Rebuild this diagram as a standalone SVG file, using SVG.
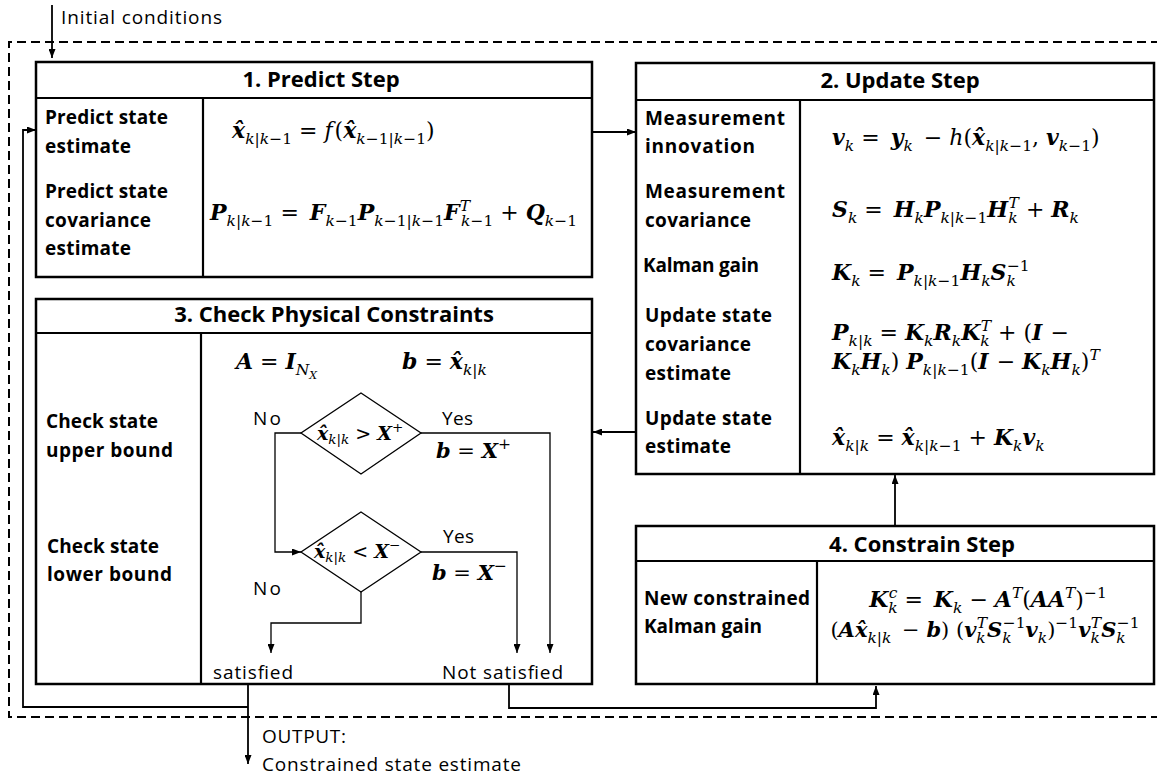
<svg xmlns="http://www.w3.org/2000/svg" width="1157" height="776" viewBox="0 0 1157 776">
<style>
.box{fill:#fff;stroke:#000;stroke-width:2.5}
.div{stroke:#000;stroke-width:2.2;fill:none}
.con{stroke:#000;stroke-width:1.8;fill:none}
.fl{stroke:#000;stroke-width:1.3;fill:none}
.dia{fill:#fff;stroke:#000;stroke-width:1.3}
.dash{stroke:#000;stroke-width:2;fill:none;stroke-dasharray:9 5}
.t{font-family:"Open Sans","Noto Sans",sans-serif;font-weight:bold;font-size:22px;text-anchor:middle;fill:#000}
.l{font-family:"Open Sans","Noto Sans",sans-serif;font-weight:bold;font-size:19px;fill:#000}
.r{font-family:"Open Sans","Noto Sans",sans-serif;font-size:19px;fill:#000}
.m{font-family:"DejaVu Serif","Liberation Serif",serif;font-size:22px;fill:#000}
.mc{text-anchor:middle}
.bi{font-weight:bold;font-style:italic}
.it{font-style:italic;font-weight:normal}
.s{font-size:15.5px;font-style:italic;font-weight:normal}
.su{font-style:normal}
.ss{font-size:11px;font-style:italic;font-weight:normal}
</style>
<defs>
<marker id="ah" markerUnits="userSpaceOnUse" markerWidth="9" markerHeight="7" refX="9" refY="3.5" orient="auto">
<path d="M0,0 L9,3.5 L0,7 z" fill="#000"/>
</marker>
</defs>

<path class="dash" d="M1160,42 H9 V717 H1160"/>

<g id="predict">
<rect class="box" x="36" y="62" width="556" height="215"/>
<line class="div" x1="36" y1="98" x2="592" y2="98"/>
<line class="div" x1="203" y1="98" x2="203" y2="277"/>
<text class="t" x="321" y="87">1. Predict Step</text>
<text class="l" x="45" y="124" textLength="123">Predict state</text>
<text class="l" x="45" y="153" textLength="86">estimate</text>
<text class="l" x="45" y="198" textLength="123">Predict state</text>
<text class="l" x="45" y="227" textLength="106">covariance</text>
<text class="l" x="45" y="255" textLength="86">estimate</text>
<text class="m" x="232" y="138"><tspan class="bi">x̂</tspan><tspan class="s" dy="6">k|k<tspan class="su">−1</tspan></tspan><tspan dy="-6"> = </tspan><tspan class="it">f</tspan><tspan dx="2">(</tspan><tspan class="bi">x̂</tspan><tspan class="s" dy="6">k<tspan class="su">−1</tspan>|k<tspan class="su">−1</tspan></tspan><tspan dy="-6">)</tspan></text>
<text class="m" x="210" y="220"><tspan class="bi">P</tspan><tspan class="s" dy="6">k|k<tspan class="su">−1</tspan></tspan><tspan dy="-6"> = </tspan><tspan class="bi" dx="4">F</tspan><tspan class="s" dy="6">k<tspan class="su">−1</tspan></tspan><tspan class="bi" dy="-6">P</tspan><tspan class="s" dy="6">k<tspan class="su">−1</tspan>|k<tspan class="su">−1</tspan></tspan><tspan class="bi" dy="-6">F</tspan><tspan class="s" dy="-9">T</tspan><tspan class="s" dx="-9" dy="15">k<tspan class="su">−1</tspan></tspan><tspan dy="-6"> + </tspan><tspan class="bi">Q</tspan><tspan class="s" dy="6">k<tspan class="su">−1</tspan></tspan></text>
</g>

<g id="update">
<rect class="box" x="636" y="63" width="518" height="411"/>
<line class="div" x1="636" y1="100" x2="1154" y2="100"/>
<line class="div" x1="800" y1="100" x2="800" y2="474"/>
<text class="t" x="900" y="88">2. Update Step</text>
<text class="l" x="645" y="125" textLength="140">Measurement</text>
<text class="l" x="645" y="153" textLength="110">innovation</text>
<text class="l" x="645" y="198" textLength="140">Measurement</text>
<text class="l" x="645" y="227" textLength="106">covariance</text>
<text class="l" x="643" y="272" textLength="116">Kalman gain</text>
<text class="l" x="645" y="322" textLength="127">Update state</text>
<text class="l" x="645" y="351" textLength="106">covariance</text>
<text class="l" x="645" y="380" textLength="86">estimate</text>
<text class="l" x="645" y="425" textLength="127">Update state</text>
<text class="l" x="645" y="453" textLength="86">estimate</text>
<text class="m" x="832" y="145"><tspan class="bi">v</tspan><tspan class="s" dy="6">k</tspan><tspan dy="-6"> = </tspan><tspan class="bi" dx="4">y</tspan><tspan class="s" dy="6">k</tspan><tspan dy="-6" dx="4"> − </tspan><tspan class="it">h</tspan>(<tspan class="bi">x̂</tspan><tspan class="s" dy="6">k|k<tspan class="su">−1</tspan></tspan><tspan dy="-6">, </tspan><tspan class="bi">v</tspan><tspan class="s" dy="6">k<tspan class="su">−1</tspan></tspan><tspan dy="-6">)</tspan></text>
<text class="m" x="832" y="217"><tspan class="bi">S</tspan><tspan class="s" dy="6">k</tspan><tspan dy="-6"> = </tspan><tspan class="bi" dx="4">H</tspan><tspan class="s" dy="6">k</tspan><tspan class="bi" dy="-6">P</tspan><tspan class="s" dy="6">k|k<tspan class="su">−1</tspan></tspan><tspan class="bi" dy="-6">H</tspan><tspan class="s" dy="6">k</tspan><tspan class="s" dx="-9" dy="-15">T</tspan><tspan dy="9"> + </tspan><tspan class="bi">R</tspan><tspan class="s" dy="6">k</tspan></text>
<text class="m" x="832" y="280"><tspan class="bi">K</tspan><tspan class="s" dy="6">k</tspan><tspan dy="-6"> = </tspan><tspan class="bi" dx="4">P</tspan><tspan class="s" dy="6">k|k<tspan class="su">−1</tspan></tspan><tspan class="bi" dy="-6">H</tspan><tspan class="s" dy="6">k</tspan><tspan class="bi" dy="-6">S</tspan><tspan class="s" dy="6">k</tspan><tspan class="s su" dx="-9" dy="-15">−1</tspan></text>
<text class="m" x="832" y="340"><tspan class="bi">P</tspan><tspan class="s" dy="6">k|k</tspan><tspan dy="-6"> = </tspan><tspan class="bi">K</tspan><tspan class="s" dy="6">k</tspan><tspan class="bi" dy="-6">R</tspan><tspan class="s" dy="6">k</tspan><tspan class="bi" dy="-6">K</tspan><tspan class="s" dy="6">k</tspan><tspan class="s" dx="-9" dy="-15">T</tspan><tspan dy="9"> + (</tspan><tspan class="bi">I</tspan><tspan dx="8">−</tspan></text>
<text class="m" x="832" y="369"><tspan class="bi">K</tspan><tspan class="s" dy="6">k</tspan><tspan class="bi" dy="-6">H</tspan><tspan class="s" dy="6">k</tspan><tspan dy="-6">) </tspan><tspan class="bi">P</tspan><tspan class="s" dy="6">k|k<tspan class="su">−1</tspan></tspan><tspan dy="-6">(</tspan><tspan class="bi">I</tspan><tspan dx="8">− </tspan><tspan class="bi">K</tspan><tspan class="s" dy="6">k</tspan><tspan class="bi" dy="-6">H</tspan><tspan class="s" dy="6">k</tspan><tspan dy="-6">)</tspan><tspan class="s" dy="-9">T</tspan></text>
<text class="m" x="832" y="445"><tspan class="bi">x̂</tspan><tspan class="s" dy="6">k|k</tspan><tspan dy="-6"> = </tspan><tspan class="bi">x̂</tspan><tspan class="s" dy="6">k|k<tspan class="su">−1</tspan></tspan><tspan dy="-6"> + </tspan><tspan class="bi">K</tspan><tspan class="s" dy="6">k</tspan><tspan class="bi" dy="-6">v</tspan><tspan class="s" dy="6">k</tspan></text>
</g>

<g id="check">
<rect class="box" x="36" y="299" width="556" height="385"/>
<line class="div" x1="36" y1="333" x2="592" y2="333"/>
<line class="div" x1="201" y1="333" x2="201" y2="684"/>
<text class="t" x="334" y="322">3. Check Physical Constraints</text>
<text class="l" x="46" y="428" textLength="112">Check state</text>
<text class="l" x="46" y="457" textLength="127">upper bound</text>
<text class="l" x="47" y="553" textLength="112">Check state</text>
<text class="l" x="47" y="581" textLength="125">lower bound</text>
<text class="m" x="236" y="369"><tspan class="bi">A</tspan> = <tspan class="bi">I</tspan><tspan class="s" dy="6">N</tspan><tspan class="ss" dy="4">X</tspan></text>
<text class="m" x="402" y="369"><tspan class="bi">b</tspan> = <tspan class="bi">x̂</tspan><tspan class="s" dy="6">k|k</tspan></text>
<polygon class="dia" points="361,393 421,433 361,474 301,433"/>
<polygon class="dia" points="361,512 421,552 361,592 301,552"/>
<text class="m" x="317" y="440" style="font-size:19px"><tspan class="bi">x̂</tspan><tspan class="s" dy="4" style="font-size:13.5px">k|k</tspan><tspan dy="-4"> &gt; </tspan><tspan class="bi">X</tspan><tspan class="s su" dy="-8" style="font-size:13.5px">+</tspan></text>
<text class="m" x="314" y="558" style="font-size:19px"><tspan class="bi">x̂</tspan><tspan class="s" dy="4" style="font-size:13.5px">k|k</tspan><tspan dy="-4"> &lt; </tspan><tspan class="bi">X</tspan><tspan class="s su" dy="-8" style="font-size:13.5px">−</tspan></text>
<text class="m" x="436" y="458" style="font-size:21px"><tspan class="bi">b</tspan> = <tspan class="bi">X</tspan><tspan class="s su" dy="-9">+</tspan></text>
<text class="m" x="432" y="580" style="font-size:21px"><tspan class="bi">b</tspan> = <tspan class="bi">X</tspan><tspan class="s su" dy="-9">−</tspan></text>
<text class="r" x="253" y="425" textLength="28">No</text>
<text class="r" x="442" y="425" textLength="31">Yes</text>
<text class="r" x="443" y="543" textLength="31">Yes</text>
<text class="r" x="253" y="595" textLength="28">No</text>
<text class="r" x="213" y="679" textLength="80">satisfied</text>
<text class="r" x="442" y="679" textLength="121">Not satisfied</text>
</g>

<g id="constrain">
<rect class="box" x="636" y="526" width="518" height="158"/>
<line class="div" x1="636" y1="561" x2="1154" y2="561"/>
<line class="div" x1="817" y1="561" x2="817" y2="684"/>
<text class="t" x="922" y="552">4. Constrain Step</text>
<text class="l" x="644" y="605" textLength="166">New constrained</text>
<text class="l" x="644" y="633" textLength="118">Kalman gain</text>
<text class="m mc" x="988" y="607"><tspan class="bi">K</tspan><tspan class="s" dy="6">k</tspan><tspan class="s" dx="-9" dy="-15">c</tspan><tspan dy="9"> = </tspan><tspan class="bi" dx="4">K</tspan><tspan class="s" dy="6">k</tspan><tspan dy="-6"> − </tspan><tspan class="bi">A</tspan><tspan class="s" dy="-9">T</tspan><tspan dy="9">(</tspan><tspan class="bi">AA</tspan><tspan class="s" dy="-9">T</tspan><tspan dy="9">)</tspan><tspan class="s su" dy="-9">−1</tspan></text>
<text class="m mc" x="985" y="637" style="font-size:21px"><tspan>(</tspan><tspan class="bi">Ax̂</tspan><tspan class="s" dy="6">k|k</tspan><tspan dy="-6" dx="4"> − </tspan><tspan class="bi">b</tspan>) (<tspan class="bi">v</tspan><tspan class="s" dy="6">k</tspan><tspan class="s" dx="-9" dy="-15">T</tspan><tspan class="bi" dy="9">S</tspan><tspan class="s" dy="6">k</tspan><tspan class="s su" dx="-9" dy="-15">−1</tspan><tspan class="bi" dy="9">v</tspan><tspan class="s" dy="6">k</tspan><tspan dy="-6">)</tspan><tspan class="s su" dy="-9">−1</tspan><tspan class="bi" dy="9">v</tspan><tspan class="s" dy="6">k</tspan><tspan class="s" dx="-9" dy="-15">T</tspan><tspan class="bi" dy="9">S</tspan><tspan class="s" dy="6">k</tspan><tspan class="s su" dx="-9" dy="-15">−1</tspan></text>
</g>

<g id="labels">
<text class="r" x="61" y="24" textLength="161">Initial conditions</text>
<text class="r" x="262" y="743" textLength="84">OUTPUT:</text>
<text class="r" x="262" y="771" textLength="259">Constrained state estimate</text>
</g>

<g id="connectors">
<line class="con" x1="52" y1="5" x2="52" y2="58" marker-end="url(#ah)"/>
<line class="con" x1="592" y1="132" x2="636" y2="132" marker-end="url(#ah)"/>
<line class="con" x1="636" y1="432" x2="593" y2="432" marker-end="url(#ah)"/>
<line class="con" x1="895" y1="526" x2="895" y2="475" marker-end="url(#ah)"/>
<polyline class="con" points="248,707 23,707 23,130 36,130" marker-end="url(#ah)"/>
<line class="con" x1="248" y1="685" x2="248" y2="764" marker-end="url(#ah)"/>
<polyline class="con" points="509,685 509,708 876,708 876,686" marker-end="url(#ah)"/>
<polyline class="fl" points="421,433 550,433 550,653" marker-end="url(#ah)"/>
<polyline class="fl" points="301,433 275,433 275,552 301,552" marker-end="url(#ah)"/>
<polyline class="fl" points="421,552 517,552 517,653" marker-end="url(#ah)"/>
<polyline class="fl" points="361,592 361,623 271,623 271,653" marker-end="url(#ah)"/>
</g>
</svg>
